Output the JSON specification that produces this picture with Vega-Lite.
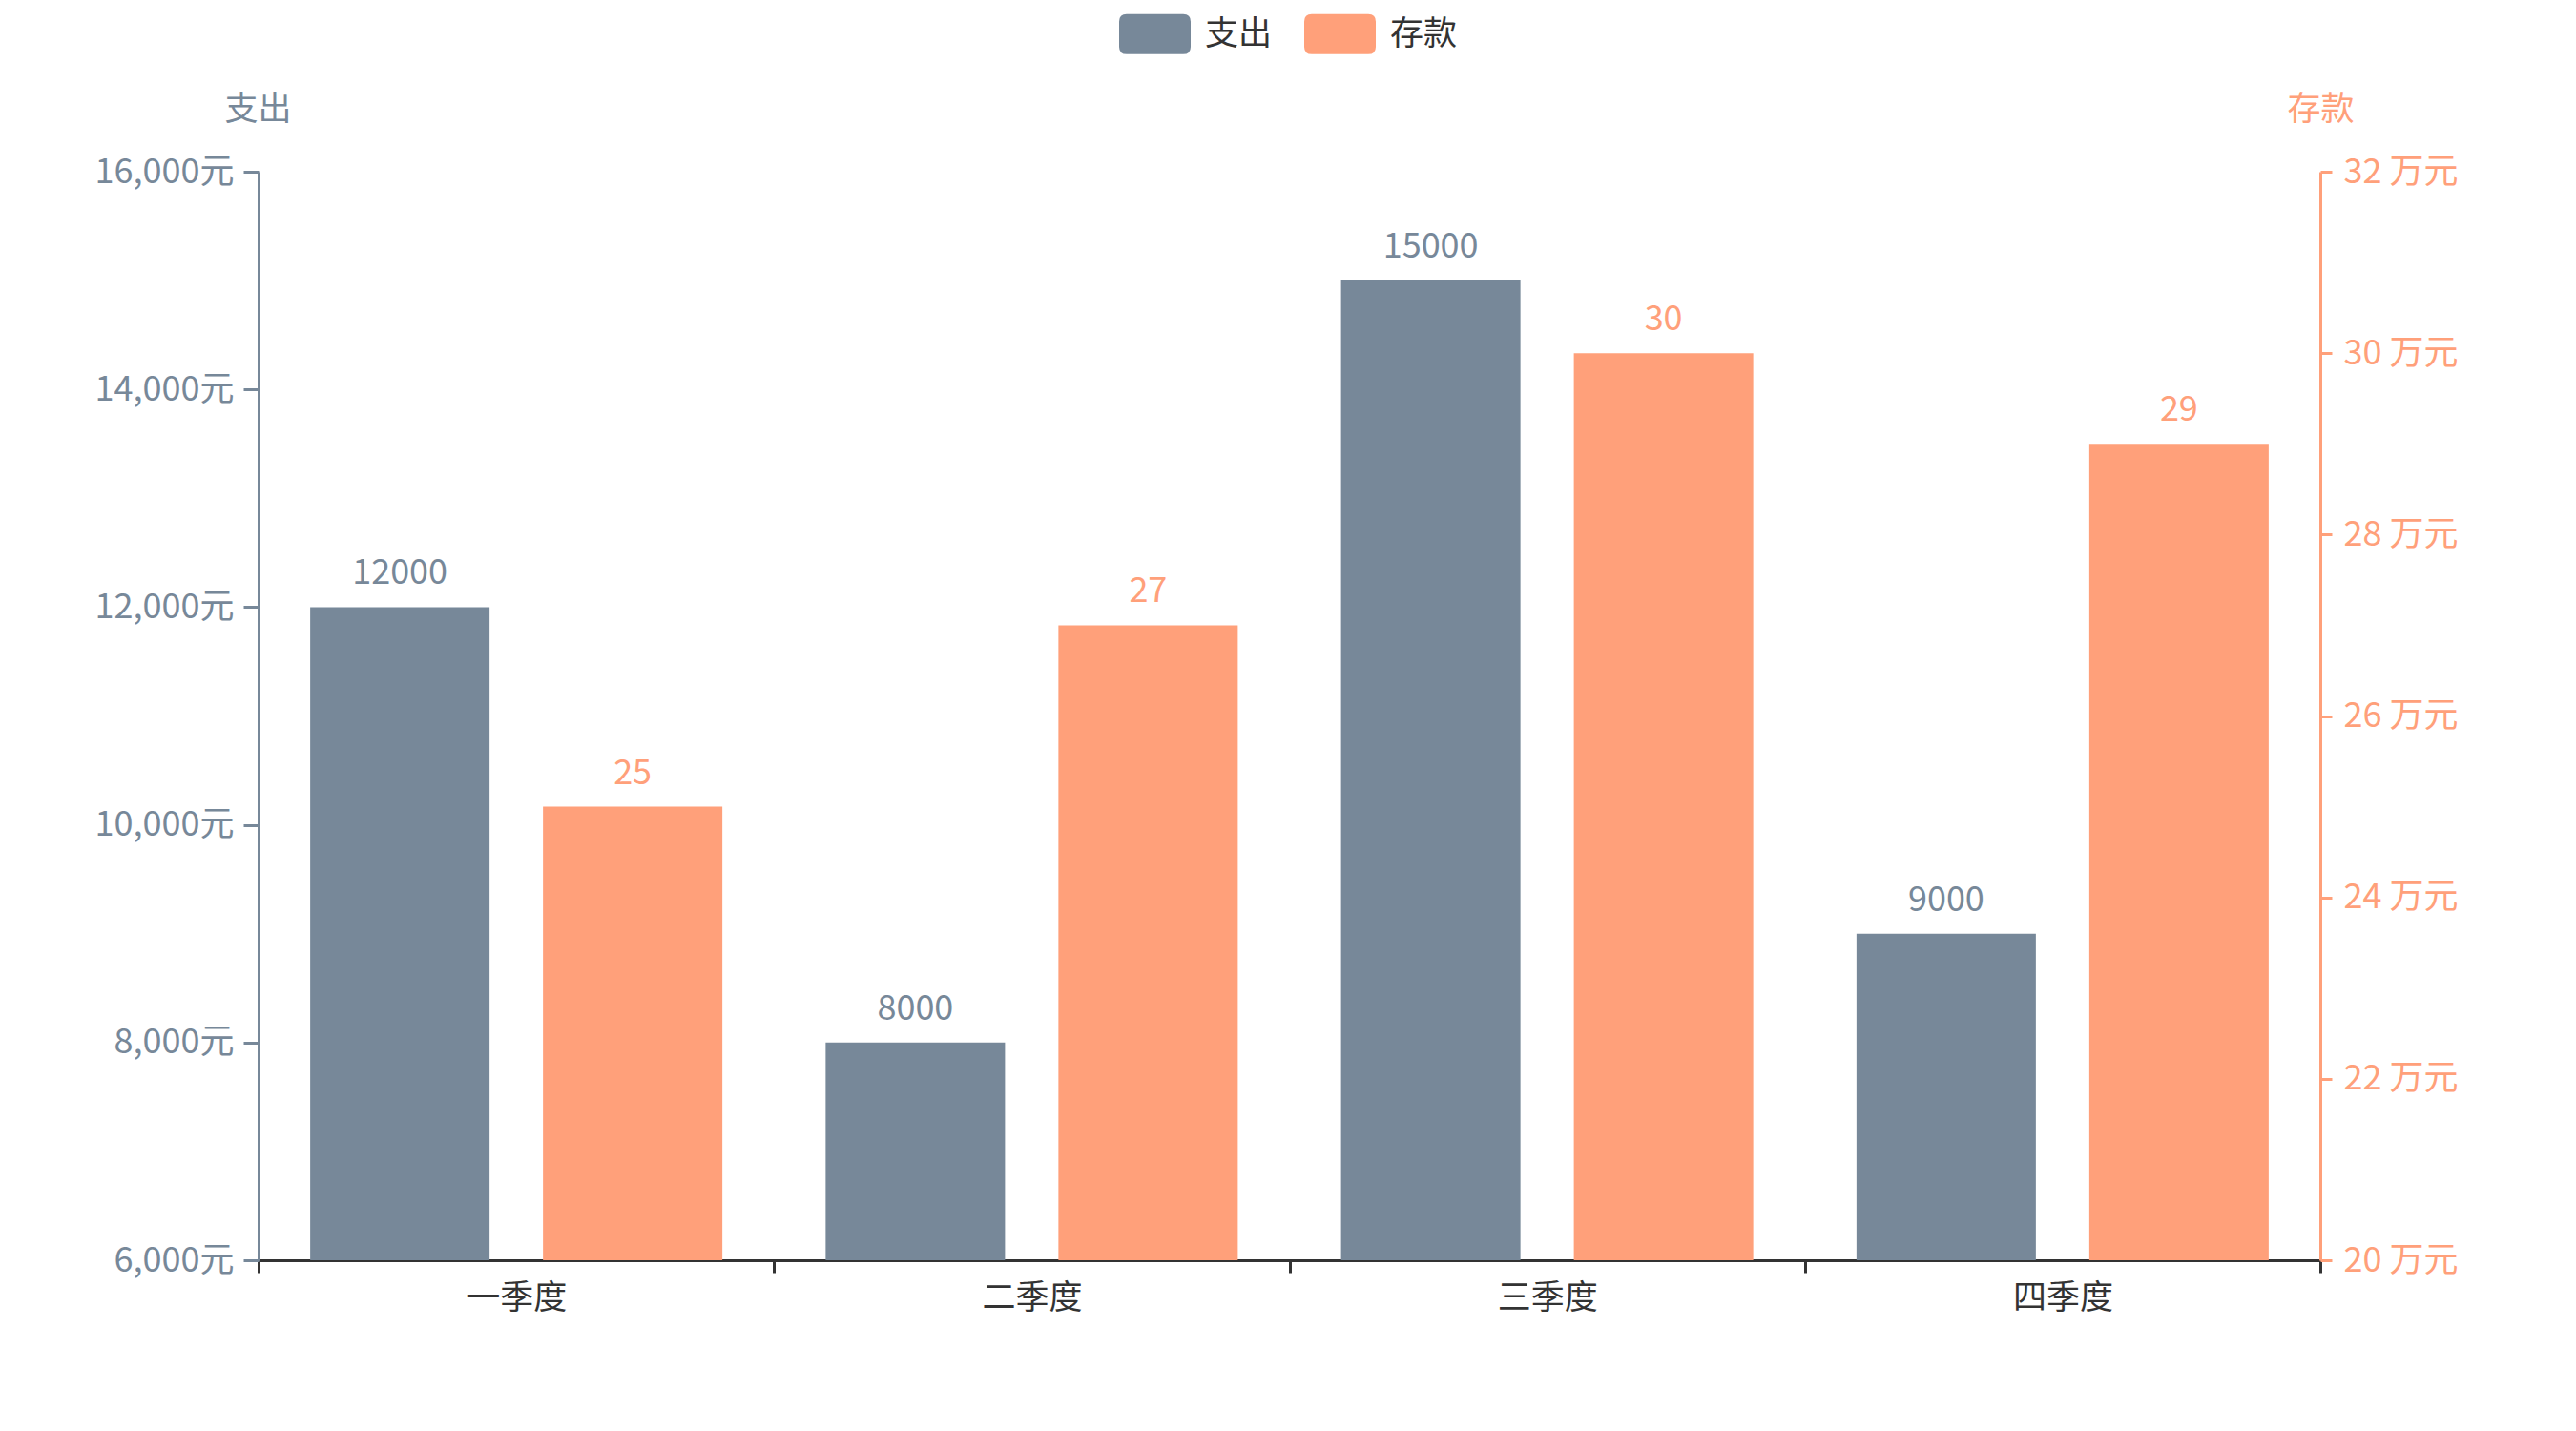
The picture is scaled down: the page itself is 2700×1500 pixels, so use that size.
{
  "$schema": "https://vega.github.io/schema/vega-lite/v6.json",
  "width": 2161,
  "height": 1141,
  "autosize": {"type": "none"},
  "padding": {"left": 271, "top": 180, "right": 268, "bottom": 179},
  "background": "white",
  "config": {
    "font": "Noto Sans CJK SC",
    "view": {"stroke": null}
  },
  "data": {
    "values": [
      {"q": "一季度", "spend": 12000, "deposit": 25},
      {"q": "二季度", "spend": 8000, "deposit": 27},
      {"q": "三季度", "spend": 15000, "deposit": 30},
      {"q": "四季度", "spend": 9000, "deposit": 29}
    ]
  },
  "encoding": {
    "x": {
      "field": "q",
      "type": "nominal",
      "sort": ["一季度", "二季度", "三季度", "四季度"],
      "scale": {"paddingInner": 0, "paddingOuter": 0},
      "axis": {
        "title": null,
        "labelAngle": 0,
        "tickBand": "extent",
        "domainColor": "#333333",
        "domainWidth": 3,
        "tickColor": "#333333",
        "tickWidth": 3,
        "tickSize": 13,
        "labelColor": "#333333",
        "labelFontSize": 35,
        "labelPadding": 9,
        "grid": false
      }
    }
  },
  "layer": [
    {
      "encoding": {
        "y": {
          "field": "spend",
          "type": "quantitative",
          "scale": {"domain": [6000, 16000], "zero": false, "nice": false},
          "axis": {
            "orient": "left",
            "title": "支出",
            "titleAngle": 0,
            "titleAlign": "center",
            "titleBaseline": "middle",
            "titleX": -1,
            "titleY": -66,
            "titleColor": "#778899",
            "titleFontSize": 35,
            "titleFontWeight": "normal",
            "values": [6000, 8000, 10000, 12000, 14000, 16000],
            "labelExpr": "format(datum.value, ',') + '元'",
            "labelColor": "#778899",
            "labelFontSize": 36,
            "labelPadding": 10,
            "tickSize": 16,
            "tickWidth": 3,
            "tickColor": "#778899",
            "domainColor": "#778899",
            "domainWidth": 3,
            "grid": false
          }
        }
      },
      "layer": [
        {
          "mark": {"type": "bar"},
          "encoding": {
            "y2": {"datum": 6000},
            "xOffset": {
              "datum": "支出",
              "scale": {"domain": ["支出", "存款"], "paddingInner": 0.2295, "paddingOuter": 0.2218}
            },
            "color": {
              "datum": "支出",
              "scale": {"domain": ["支出", "存款"], "range": ["#778899", "#FFA07A"]},
              "legend": {
                "title": null,
                "orient": "none",
                "direction": "horizontal",
                "legendX": 902,
                "legendY": -182,
                "symbolType": "M-0.79,-0.56 L0.79,-0.56 Q1,-0.56 1,-0.35 L1,0.35 Q1,0.56 0.79,0.56 L-0.79,0.56 Q-1,0.56 -1,0.35 L-1,-0.35 Q-1,-0.56 -0.79,-0.56 Z",
                "symbolSize": 5625,
                "symbolStrokeWidth": 0,
                "symbolOpacity": 1,
                "labelFontSize": 35,
                "labelColor": "#333333",
                "labelOffset": 15,
                "columnPadding": 33
              }
            }
          }
        },
        {
          "mark": {"type": "text", "color": "#778899", "fontSize": 36, "baseline": "alphabetic", "dy": -24},
          "encoding": {
            "xOffset": {"datum": "支出"},
            "text": {"field": "spend", "type": "quantitative", "format": "d"}
          }
        }
      ]
    },
    {
      "encoding": {
        "y": {
          "field": "deposit",
          "type": "quantitative",
          "scale": {"domain": [20, 32], "zero": false, "nice": false},
          "axis": {
            "orient": "right",
            "title": "存款",
            "titleAngle": 0,
            "titleAlign": "center",
            "titleBaseline": "middle",
            "titleX": 0,
            "titleY": -66,
            "titleColor": "#FFA07A",
            "titleFontSize": 35,
            "titleFontWeight": "normal",
            "values": [20, 22, 24, 26, 28, 30, 32],
            "labelExpr": "datum.value + ' 万元'",
            "labelColor": "#FFA07A",
            "labelFontSize": 36,
            "labelPadding": 12,
            "tickSize": 12,
            "tickWidth": 3,
            "tickColor": "#FFA07A",
            "domainColor": "#FFA07A",
            "domainWidth": 3,
            "grid": false
          }
        }
      },
      "layer": [
        {
          "mark": {"type": "bar"},
          "encoding": {
            "y2": {"datum": 20},
            "xOffset": {"datum": "存款"},
            "color": {"datum": "存款"}
          }
        },
        {
          "mark": {"type": "text", "color": "#FFA07A", "fontSize": 36, "baseline": "alphabetic", "dy": -24},
          "encoding": {
            "xOffset": {"datum": "存款"},
            "text": {"field": "deposit", "type": "quantitative", "format": "d"}
          }
        }
      ]
    }
  ],
  "resolve": {"scale": {"y": "independent"}}
}
